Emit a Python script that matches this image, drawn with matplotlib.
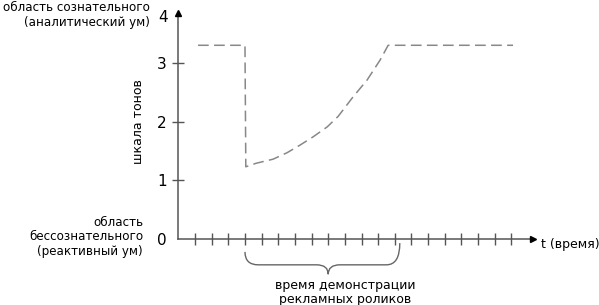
import numpy as np
import matplotlib.pyplot as plt
from matplotlib.path import Path
from matplotlib.patches import PathPatch

# tone curve
t_vals = [1.18, 4.0, 4.05, 4.67, 5.69, 6.53, 7.31, 8.09, 8.94, 9.6, 10.49, 11.34, 12.12, 12.6, 20.1]
tone_vals = [3.3, 3.3, 1.23, 1.29, 1.36, 1.47, 1.6, 1.74, 1.91, 2.09, 2.42, 2.71, 3.05, 3.3, 3.3]

x_ticks = list(range(1, 21))
y_ticks = [0, 1, 2, 3]
y_labels = ['0', '1', '2', '3']

brace_from, brace_to, brace_tip = 4.0, 13.3, 9.0

plt.rcParams['font.family'] = ['DejaVu Sans']

fig = plt.figure(figsize=(5.99, 3.05), dpi=100)
ax = fig.add_axes([0.2978, 0.2164, 0.592, 0.741])
ax.set_xlim(0, 21.3)
ax.set_ylim(0, 3.85)
for s in ax.spines.values():
    s.set_visible(False)

axc = '#555555'
# axes with arrows
ax.plot([0, 21.3], [0, 0], color=axc, lw=1.1, clip_on=False)
ax.plot([0, 0], [0, 3.85], color=axc, lw=1.1, clip_on=False)
ax.plot([21.3], [0], marker='>', ms=5, color='black', clip_on=False)
ax.plot([0], [3.85], marker='^', ms=5, color='black', clip_on=False)

ax.set_xticks(x_ticks)
ax.set_xticklabels([])
ax.tick_params(axis='x', direction='inout', length=8, width=1, color=axc)
ax.set_yticks(y_ticks)
ax.set_yticklabels(y_labels, fontsize=11)
ax.tick_params(axis='y', direction='inout', length=9, width=1, color=axc, pad=4)
ax.yaxis.get_major_ticks()[0].tick1line.set_visible(False)
ax.yaxis.get_major_ticks()[0].tick2line.set_visible(False)
ax.text(-0.95, 3.77, '4', fontsize=11, ha='center', va='center', clip_on=False)

# tone line
ax.plot(t_vals, tone_vals, color='#888888', lw=1.1, linestyle=(0, (7, 3.5)), clip_on=False)

# brace under the time axis
verts = [(brace_from, -0.22), (brace_from, -0.44), (brace_from + 0.8, -0.44),
         (brace_tip - 0.7, -0.44), (brace_tip, -0.44), (brace_tip, -0.6),
         (brace_tip, -0.6), (brace_tip, -0.44), (brace_tip + 0.7, -0.44),
         (brace_to - 0.8, -0.44), (brace_to, -0.44), (brace_to, -0.07)]
codes = [Path.MOVETO, Path.CURVE3, Path.CURVE3, Path.LINETO, Path.CURVE3, Path.CURVE3,
         Path.MOVETO, Path.CURVE3, Path.CURVE3, Path.LINETO, Path.CURVE3, Path.CURVE3]
ax.add_patch(PathPatch(Path(verts, codes), facecolor='none', edgecolor='#666666',
                       lw=1, clip_on=False))

ax.text(10.0, -0.68, 'время демонстрации\nрекламных роликов', ha='center', va='top',
        fontsize=9, linespacing=1.15, clip_on=False)
ax.text(21.8, -0.1, 't (время)', ha='left', va='center', fontsize=9, clip_on=False)
ax.text(-2.37, 2.0, 'шкала тонов', rotation=90, ha='center', va='center', fontsize=9)

fig.text(150 / 599, 1 - 15 / 305, 'область сознательного\n(аналитический ум)',
         ha='right', va='center', fontsize=8.6, linespacing=1.2)
fig.text(143 / 599, 1 - 237 / 305, 'область\nбессознательного\n(реактивный ум)',
         ha='right', va='center', fontsize=8.6, linespacing=1.2)

fig.savefig('out.png', dpi=100)
